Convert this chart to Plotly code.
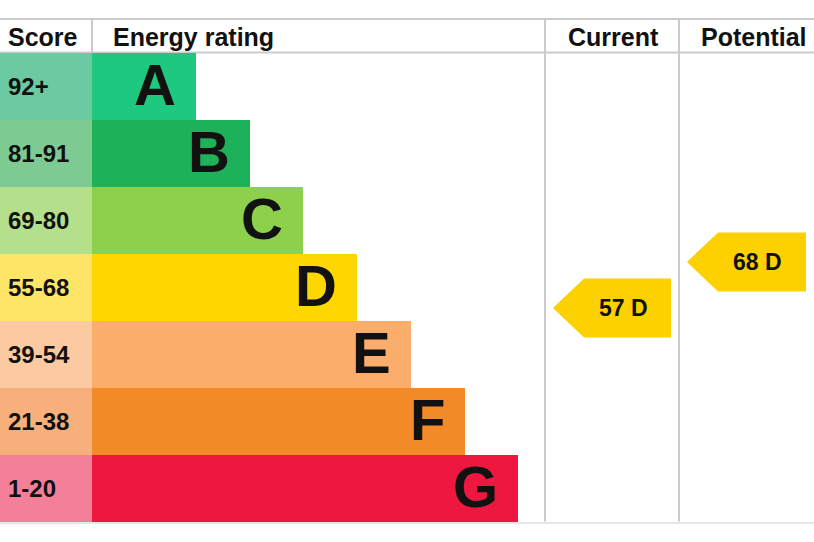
import plotly.graph_objects as go

# Rating bands, top (best) to bottom (worst)
bands = ["A", "B", "C", "D", "E", "F", "G"]
score_labels = ["92+", "81-91", "69-80", "55-68", "39-54", "21-38", "1-20"]
score_low = [92, 81, 69, 55, 39, 21, 1]
score_high = [100, 91, 80, 68, 54, 38, 20]
bar_colors = ["#1ec87f", "#1db25a", "#8dd04b", "#ffd700", "#fbad6b", "#f28a28", "#ee1740"]
score_colors = ["#6ccaa2", "#7dcb92", "#b4df8b", "#ffe567", "#fccaa0", "#f7b07b", "#f47f99"]
headers = ["Score", "Energy rating", "Current", "Potential"]

current_score = 57
potential_score = 68

# layout constants (pixels)
W, H = 814, 542
TOP, HEAD, ROW_H = 19, 52.5, 67
SCORE_W = 92
BAR_W0, BAR_STEP = 104, 53.7
COL_CUR, COL_POT, COL_END = 545, 679, 814
GRID = "#cbcbcb"
FONT = "Liberation Sans, Arial, sans-serif"
ARROW = "#fdd000"


def band_of(score):
    for i, (lo, hi) in enumerate(zip(score_low, score_high)):
        if lo <= score <= hi:
            return i
    return len(bands) - 1


def score_y(score):
    i = band_of(score)
    frac = (score - score_low[i] + 1) / (score_high[i] - score_low[i] + 3)
    return HEAD + (i + 1 - frac) * ROW_H


row_y = [HEAD + (i + 0.5) * ROW_H for i in range(len(bands))]
bar_len = [BAR_W0 + BAR_STEP * i for i in range(len(bands))]

fig = go.Figure()

fig.add_trace(go.Bar(
    y=row_y, x=[SCORE_W] * len(bands), base=0, orientation="h",
    width=ROW_H, marker=dict(color=score_colors, line=dict(width=0)),
    hoverinfo="skip",
))
fig.add_trace(go.Bar(
    y=row_y, x=bar_len, base=SCORE_W, orientation="h",
    width=ROW_H, marker=dict(color=bar_colors, line=dict(width=0)),
    hoverinfo="skip",
))

annotations = []
for i, band in enumerate(bands):
    annotations.append(dict(
        x=6, y=row_y[i], text=score_labels[i], xanchor="left", yanchor="middle",
        showarrow=False, font=dict(family=FONT, size=24, color="#111", weight="bold"),
    ))
    annotations.append(dict(
        x=SCORE_W + bar_len[i] - 18, y=row_y[i] - 2, text=band, xanchor="right",
        yanchor="middle", showarrow=False,
        font=dict(family=FONT, size=58, color="#111", weight="bold"),
    ))

# header texts
head_y = (TOP + HEAD) / 2 + 1
head_pos = [(6, "left"), (SCORE_W + 19, "left"),
            ((COL_CUR + COL_POT) / 2 + 1, "center"), ((COL_POT + COL_END) / 2 + 7, "center")]
for text, (x, anchor) in zip(headers, head_pos):
    annotations.append(dict(
        x=x, y=head_y, text=text, xanchor=anchor, yanchor="middle", showarrow=False,
        font=dict(family=FONT, size=25, color="#111", weight="bold"),
    ))

shapes = []
bottom = HEAD + ROW_H * len(bands)
line = dict(color=GRID, width=2)
shapes.append(dict(type="line", x0=0, x1=W, y0=TOP, y1=TOP, line=line, layer="below"))
shapes.append(dict(type="line", x0=0, x1=W, y0=HEAD, y1=HEAD, line=line, layer="below"))
shapes.append(dict(type="line", x0=0, x1=W, y0=bottom + 1.5, y1=bottom + 1.5,
                   line=dict(color="#e6e6e6", width=2), layer="below"))
shapes.append(dict(type="line", x0=SCORE_W, x1=SCORE_W, y0=TOP, y1=HEAD, line=line, layer="below"))
for x in (COL_CUR, COL_POT):
    shapes.append(dict(type="line", x0=x, x1=x, y0=TOP, y1=bottom, line=line, layer="below"))

# pointer arrows for current / potential
for score, (c0, c1) in ((current_score, (COL_CUR, COL_POT)), (potential_score, (COL_POT, COL_END))):
    yc = score_y(score)
    tip, right = c0 + 8, c1 - 8
    shoulder = tip + 31
    half = 29.5
    path = (f"M {tip},{yc} L {shoulder},{yc - half} L {right},{yc - half} "
            f"L {right},{yc + half} L {shoulder},{yc + half} Z")
    shapes.append(dict(type="path", path=path, fillcolor=ARROW, line=dict(width=0)))
    annotations.append(dict(
        x=(tip + right) / 2 + 11, y=yc, text=f"{score} {bands[band_of(score)]}",
        xanchor="center", yanchor="middle", showarrow=False,
        font=dict(family=FONT, size=23, color="#111", weight="bold"),
    ))

fig.update_layout(
    width=W, height=H,
    margin=dict(l=0, r=0, t=0, b=0),
    paper_bgcolor="white", plot_bgcolor="white",
    showlegend=False, barmode="overlay", bargap=0,
    xaxis=dict(range=[0, W], visible=False, fixedrange=True),
    yaxis=dict(range=[H, 0], visible=False, fixedrange=True),
    shapes=shapes, annotations=annotations,
)

fig.write_html("out.html", config={"displayModeBar": False},
               post_script="document.body.style.margin='0';")
